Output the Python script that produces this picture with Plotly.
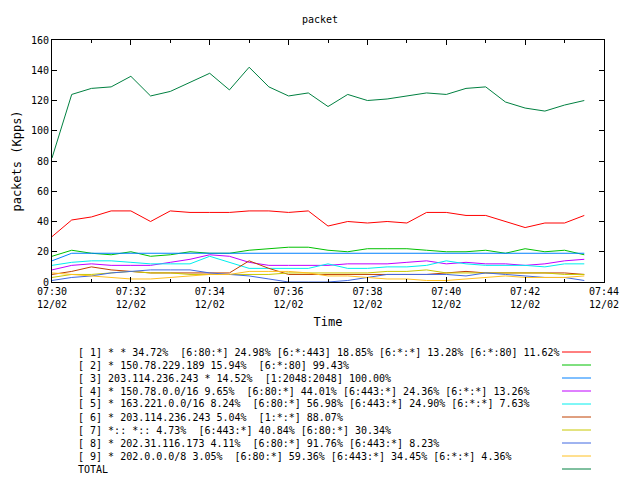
import plotly.graph_objects as go
import pandas as pd

times = pd.date_range("2024-12-02 07:30:00", periods=28, freq="30s")

total = [82, 124, 128, 129, 136, 123, 126, 132, 138, 127, 142, 129, 123, 125, 116, 124, 120, 121, 123, 125, 124, 128, 129, 119, 115, 113, 117, 120]
s1 = [30, 41, 43, 47, 47, 40, 47, 46, 46, 46, 47, 47, 46, 47, 37, 40, 39, 40, 39, 46, 46, 44, 44, 40, 36, 39, 39, 44]
s2 = [17, 21, 19, 18, 20, 17, 18, 20, 19, 19, 21, 22, 23, 23, 21, 20, 22, 22, 22, 21, 20, 20, 21, 19, 22, 20, 21, 18]
s3 = [14, 19, 19, 19, 19, 19, 19, 19, 19, 19, 19, 19, 19, 19, 19, 19, 19, 19, 19, 19, 19, 19, 19, 19, 19, 19, 19, 19]
s4 = [8, 11, 12, 11, 11, 11, 13, 15, 18, 17, 13, 11, 11, 11, 11, 12, 12, 12, 13, 14, 12, 13, 12, 12, 11, 12, 14, 15]
s5 = [11, 13, 14, 14, 13, 12, 12, 12, 17, 13, 9, 9, 9, 9, 12, 9, 9, 10, 10, 11, 14, 12, 11, 11, 11, 10, 12, 12]
s6 = [5, 7, 10, 8, 7, 6, 6, 6, 6, 6, 14, 9, 5, 5, 5, 5, 5, 5, 5, 5, 6, 7, 6, 6, 6, 6, 6, 5]
s7 = [3, 5, 5, 6, 7, 6, 6, 5, 5, 5, 5, 5, 6, 6, 6, 6, 6, 7, 7, 8, 6, 6, 6, 6, 6, 6, 5, 5]
s8 = [1, 3, 4, 6, 7, 8, 8, 8, 6, 5, 4, 2, 0, 0, 0, 1, 3, 5, 5, 5, 5, 4, 6, 5, 4, 3, 3, 1]
s9 = [6, 5, 4, 3, 2, 2, 3, 4, 5, 5, 7, 7, 7, 6, 4, 4, 3, 2, 2, 1, 1, 2, 3, 4, 3, 3, 3, 4]

labels = [
    "[ 1] * * 34.72%  [6:80:*] 24.98% [6:*:443] 18.85% [6:*:*] 13.28% [6:*:80] 11.62%",
    "[ 2] * 150.78.229.189 15.94%  [6:*:80] 99.43%",
    "[ 3] 203.114.236.243 * 14.52%  [1:2048:2048] 100.00%",
    "[ 4] * 150.78.0.0/16 9.65%  [6:80:*] 44.01% [6:443:*] 24.36% [6:*:*] 13.26%",
    "[ 5] * 163.221.0.0/16 8.24%  [6:80:*] 56.98% [6:443:*] 24.90% [6:*:*] 7.63%",
    "[ 6] * 203.114.236.243 5.04%  [1:*:*] 88.07%",
    "[ 7] *:: *:: 4.73%  [6:443:*] 40.84% [6:80:*] 30.34%",
    "[ 8] * 202.31.116.173 4.11%  [6:80:*] 91.76% [6:443:*] 8.23%",
    "[ 9] * 202.0.0.0/8 3.05%  [6:80:*] 59.36% [6:443:*] 34.45% [6:*:*] 4.36%",
    "TOTAL",
]
series = [s1, s2, s3, s4, s5, s6, s7, s8, s9, total]
colors = ["#ff0000", "#00c000", "#0080ff", "#c000ff", "#00eeee",
          "#c04000", "#c8c800", "#4169e1", "#ffc020", "#008040"]

fig = go.Figure()
for ys, c in zip(series, colors):
    fig.add_trace(go.Scatter(x=times, y=ys, mode="lines", line=dict(color=c, width=1),
                             showlegend=False))

# plot area in window pixels: x 52..604, y 40..282 (page body has an 8px offset)
def px(x):
    return (x - 52) / 552

def py(y):
    return (282 - y) / 242

for i, (lab, c) in enumerate(zip(labels, colors)):
    yy = 352 + i * 13
    fig.add_annotation(text=lab, x=px(76), y=py(yy), xref="paper", yref="paper",
                       xanchor="left", yanchor="middle", showarrow=False,
                       font=dict(family="DejaVu Sans Mono", size=10, color="black"))
    fig.add_shape(type="line", xref="paper", yref="paper", x0=px(562), x1=px(591),
                  y0=py(yy), y1=py(yy), line=dict(color=c, width=1))

tickvals = pd.date_range("2024-12-02 07:30:00", periods=8, freq="2min")
ticktext = [t.strftime("%H:%M") + "<br>12/02" for t in tickvals]

fig.update_layout(
    width=640, height=480, plot_bgcolor="white", paper_bgcolor="white",
    margin=dict(l=44, r=44, t=32, b=206),
    font=dict(family="DejaVu Sans Mono", size=10, color="black"),
    title=dict(text="packet", x=(320 - 8) / 640, xanchor="center",
               y=1 - 11 / 480, yanchor="middle", font=dict(size=10)),
    xaxis=dict(range=[tickvals[0], tickvals[-1]], tickvals=tickvals, ticktext=ticktext,
               showgrid=False, showline=True, linecolor="black", mirror="ticks",
               ticks="inside", ticklen=5, tickcolor="black", automargin=False,
               minor=dict(dtick=60000, ticks="inside", ticklen=3, tickcolor="black"),
               title=dict(text="Time", standoff=8)),
    yaxis=dict(range=[0, 160], dtick=20, showgrid=False, showline=True, linecolor="black",
               mirror="ticks", ticks="inside", ticklen=5, tickcolor="black", zeroline=False,
               automargin=False, title=dict(text="packets (Kpps)", standoff=6)),
)

fig.write_html("out.html")
